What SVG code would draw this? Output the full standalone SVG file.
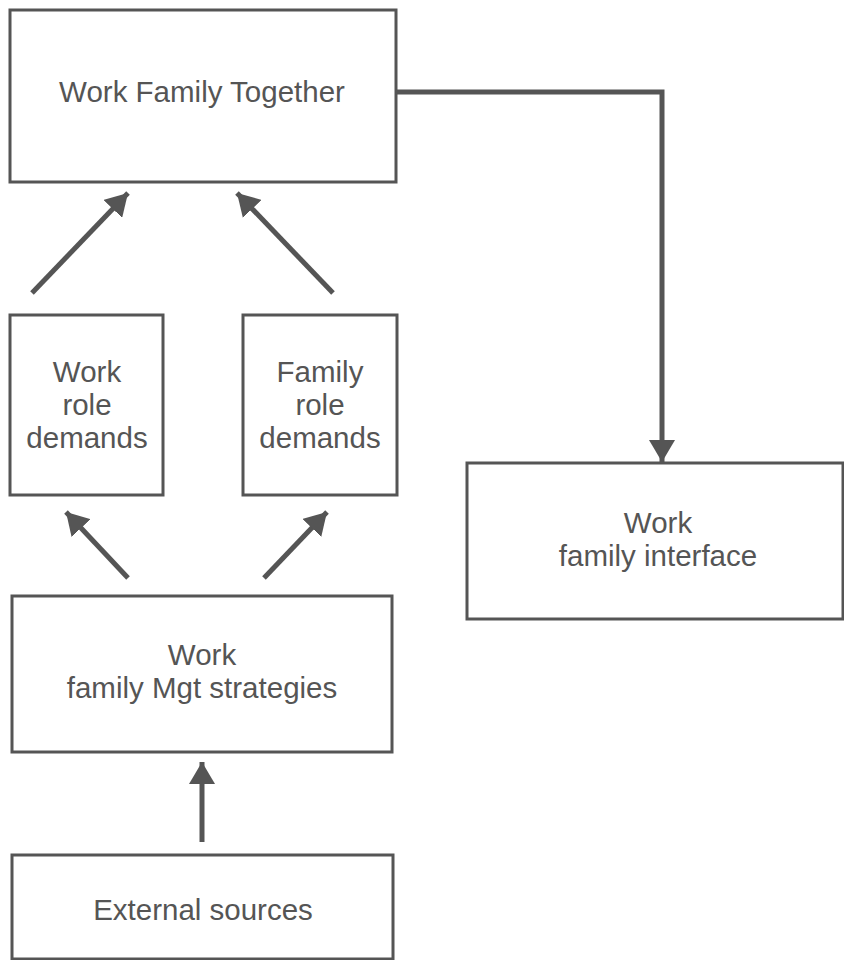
<svg xmlns="http://www.w3.org/2000/svg" width="844" height="960" viewBox="0 0 844 960">
<style>
.box{fill:none;stroke:#555;stroke-width:3}
.lbl{font-family:"Liberation Sans",Arial,sans-serif;font-size:29.5px;fill:#555;text-anchor:middle}
.conn{fill:none;stroke:#555;stroke-width:5;marker-end:url(#ah)}
</style>
<defs>
<marker id="ah" viewBox="0 0 22 26" refX="22" refY="13" markerWidth="22" markerHeight="26" orient="auto" markerUnits="userSpaceOnUse">
<path d="M0,0 L22,13 L0,26 z" fill="#555"/>
</marker>
</defs>
<rect width="844" height="960" fill="#fff"/>
<g id="together">
<rect class="box" x="10" y="10" width="386" height="172"/>
<text class="lbl" x="202" y="102">Work Family Together</text>
</g>
<g id="work-role">
<rect class="box" x="10" y="315" width="153" height="180"/>
<text class="lbl" x="87" y="382">Work</text>
<text class="lbl" x="87" y="415">role</text>
<text class="lbl" x="87" y="448">demands</text>
</g>
<g id="family-role">
<rect class="box" x="243" y="315" width="154" height="180"/>
<text class="lbl" x="320" y="382">Family</text>
<text class="lbl" x="320" y="415">role</text>
<text class="lbl" x="320" y="448">demands</text>
</g>
<g id="interface">
<rect class="box" x="467" y="463" width="376" height="156"/>
<text class="lbl" x="658" y="533">Work</text>
<text class="lbl" x="658" y="566">family interface</text>
</g>
<g id="mgt">
<rect class="box" x="12" y="596" width="380" height="156"/>
<text class="lbl" x="202" y="665">Work</text>
<text class="lbl" x="202" y="698">family Mgt strategies</text>
</g>
<g id="external">
<rect class="box" x="12" y="855" width="381" height="104"/>
<text class="lbl" x="203" y="920">External sources</text>
</g>
<g id="connectors">
<path class="conn" d="M32,293 L128,193"/>
<path class="conn" d="M333,293 L237,193"/>
<path class="conn" d="M128,578 L66,512"/>
<path class="conn" d="M264,578 L327,512"/>
<path class="conn" d="M202,842 L202,762"/>
<path class="conn" d="M396,92 L662,92 L662,462"/>
</g>
</svg>
